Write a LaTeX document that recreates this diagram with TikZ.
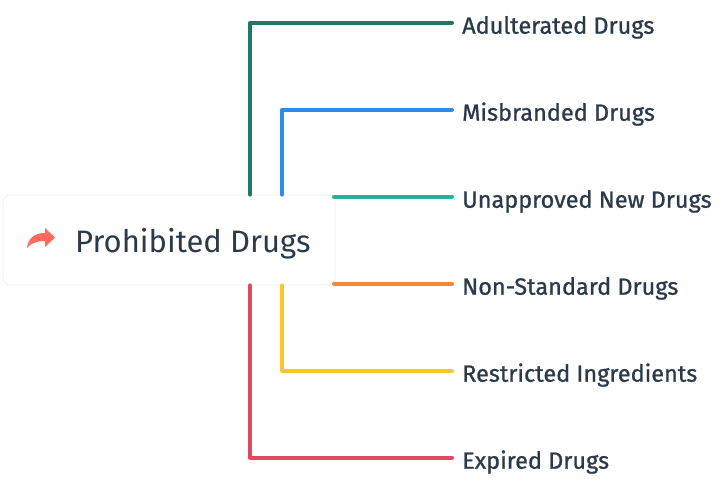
\documentclass[tikz,border=0pt]{standalone}
\usepackage{fontspec}
\setmainfont{Fira Sans}
\newfontfamily\medfont{Fira Sans}[FakeBold=0.9]
\usetikzlibrary{arrows.meta,shadows}
\definecolor{txt}{HTML}{2B3A4A}
\definecolor{cgreen}{HTML}{1F7A65}
\definecolor{cblue}{HTML}{2E8BE6}
\definecolor{cteal}{HTML}{22B3A3}
\definecolor{corange}{HTML}{F5873A}
\definecolor{cyellow}{HTML}{FFC52A}
\definecolor{cred}{HTML}{DF4A60}
\definecolor{ccoral}{HTML}{FF6A5A}
\tikzset{
  leaf/.style={anchor=west, inner sep=0pt, text=txt, text height=22pt, text depth=0pt,
    font=\medfont\fontsize{23.5}{26}\selectfont},
  conn/.style={line width=4pt, line cap=round, line join=round},
  rootbox/.style={fill=white, draw=black!6, line width=0.8pt, rounded corners=7pt,
    minimum width=332pt, minimum height=90pt, inner sep=0pt}
}
\begin{document}
\begin{tikzpicture}[x=1pt,y=-1pt]
\useasboundingbox (0,0) rectangle (723,480);
\node[rootbox] (root) at (169,240) {};
\node[anchor=base west, inner sep=0pt, text=txt, font=\fontsize{31}{34}\selectfont] (rt) at (75,252) {Prohibited Drugs};
\fill[ccoral] (27,248) .. controls (28,238) and (35,233) .. (45,233) -- (45,228) -- (55,237.5) -- (45,247) -- (45,241) .. controls (37,241) and (31,243) .. (27,248) -- cycle;

\node[leaf] (a) at (462,22.7) {Adulterated Drugs};
\node[leaf] (b) at (462,109.7) {Misbranded Drugs};
\node[leaf] (c) at (462,196.7) {Unapproved New Drugs};
\node[leaf] (d) at (462,283.7) {Non-Standard Drugs};
\node[leaf] (e) at (462,370.7) {Restricted Ingredients};
\node[leaf] (f) at (462,457.7) {Expired Drugs};

\coordinate (xg) at (250,0);
\coordinate (xb) at (282,0);
\coordinate (xr) at (334,0);
\coordinate (xe) at (452,0);

\draw[conn, cgreen] (root.north -| xg) |- (a.west -| xe);
\draw[conn, cblue] (root.north -| xb) |- (b.west -| xe);
\draw[conn, cteal] (c.west -| xr) -- (c.west -| xe);
\draw[conn, corange] (d.west -| xr) -- (d.west -| xe);
\draw[conn, cyellow] (root.south -| xb) |- (e.west -| xe);
\draw[conn, cred] (root.south -| xg) |- (f.west -| xe);
\end{tikzpicture}
\end{document}
